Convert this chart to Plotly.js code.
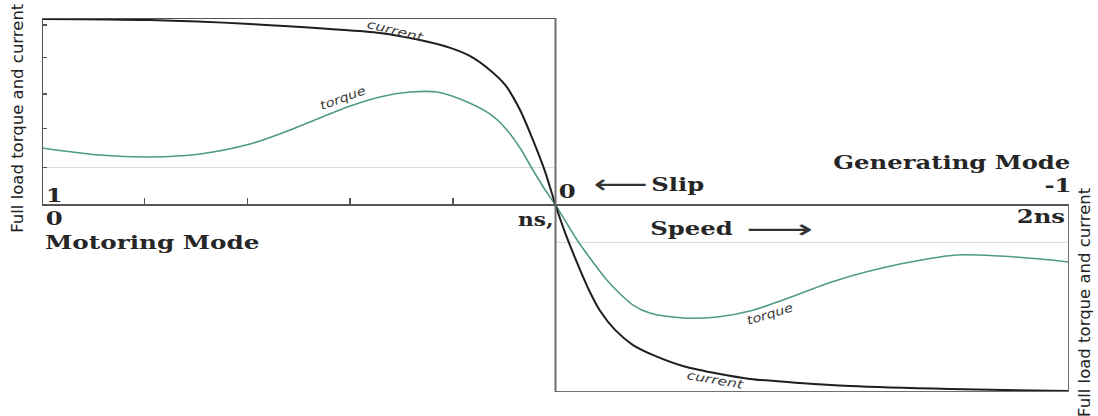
<!DOCTYPE html>
<html>
<head>
<meta charset="utf-8">
<script src="https://cdn.plot.ly/plotly-3.0.1.min.js"></script>
<style>html,body{margin:0;padding:0;background:#fff;}#chart{width:1098px;height:416px;}</style>
</head>
<body>
<div id="chart"></div>
<script>
// Speed in units of synchronous speed ns (0 .. 2ns); values in per-unit of full load
const speedCurrent = [0, 0.21, 0.405, 0.561, 0.658, 0.736, 0.795, 0.833, 0.872, 0.902, 0.931, 0.956, 0.98, 1.0, 1.019, 1.048, 1.067, 1.087, 1.116, 1.151, 1.194, 1.248, 1.32, 1.379, 1.476, 1.574, 1.768, 2.0];
const current = [0.995, 0.989, 0.968, 0.941, 0.92, 0.882, 0.84, 0.797, 0.722, 0.642, 0.508, 0.348, 0.176, 0, -0.15, -0.348, -0.465, -0.567, -0.668, -0.749, -0.807, -0.861, -0.904, -0.93, -0.952, -0.968, -0.984, -0.995];

const speedTorque = [0, 0.113, 0.21, 0.308, 0.405, 0.483, 0.541, 0.6, 0.658, 0.717, 0.769, 0.828, 0.872, 0.902, 0.931, 0.956, 0.98, 1.0, 1.042, 1.067, 1.1, 1.126, 1.151, 1.184, 1.248, 1.315, 1.379, 1.443, 1.544, 1.671, 1.782, 1.866, 1.944, 2.0];
const torque = [0.305, 0.267, 0.257, 0.273, 0.326, 0.401, 0.465, 0.529, 0.578, 0.604, 0.604, 0.551, 0.487, 0.412, 0.305, 0.187, 0.08, 0, -0.187, -0.283, -0.401, -0.476, -0.535, -0.578, -0.604, -0.599, -0.567, -0.508, -0.406, -0.316, -0.267, -0.273, -0.289, -0.305];

const leftTicks = [0.2, 0.41, 0.594, 0.79, 0.963];
const rightTicks = [-0.2];
const motorTicks = [0.2, 0.4, 0.6, 0.8];
const generatorTicks = [1.2, 1.4, 1.6, 1.8];
const fullLoadLevel = 0.2;

const axisTitle = "Full load torque and current";

const serif = {family: "DejaVu Serif", size: 18, color: "#262626", weight: "bold"};
const small = {family: "DejaVu Sans", size: 12, color: "#3a3a3a", style: "italic"};
const arrowFont = {family: "DejaVu Sans", size: 26, color: "#333"};
const titleFont = {family: "DejaVu Sans", size: 16.5, color: "#222"};

const traces = [
  {x: speedTorque, y: torque, mode: "lines", line: {color: "#4f9a86", width: 1.6, shape: "spline", smoothing: 0.8}, hoverinfo: "skip", name: "torque"},
  {x: speedCurrent, y: current, mode: "lines", line: {color: "#1e1e1e", width: 2, shape: "spline", smoothing: 0.8}, hoverinfo: "skip", name: "current"}
];

const boxLine = {color: "#6f6f6f", width: 2};
const faint = {color: "#d8d8d8", width: 1};

// stretch: horizontal widening of the (wide) lettering used in the original drawing
const annotations = [
  {xref: "paper", yref: "paper", x: -0.0234, y: 0.733, xanchor: "center", yanchor: "middle", text: axisTitle, textangle: -90, showarrow: false, font: titleFont},
  {xref: "paper", yref: "paper", x: 1.0156, y: 0.241, xanchor: "center", yanchor: "middle", text: axisTitle, textangle: -90, showarrow: false, font: titleFont},
  {x: 0.025, y: 0.053, text: "1", showarrow: false, font: serif, stretch: 1.35},
  {x: 0.025, y: -0.07, text: "0", showarrow: false, font: serif, stretch: 1.35},
  {x: 0.214, y: -0.203, text: "Motoring Mode", showarrow: false, font: serif, stretch: 1.37},
  {x: 0.962, y: -0.075, text: "ns,", showarrow: false, font: serif, stretch: 1.2},
  {x: 1.024, y: 0.07, text: "0", showarrow: false, font: serif, stretch: 1.35},
  {x: 1.126, y: 0.112, text: "⟵", showarrow: false, font: arrowFont, stretch: 1.45},
  {x: 1.237, y: 0.107, text: "Slip", showarrow: false, font: serif, stretch: 1.35},
  {x: 1.264, y: -0.128, text: "Speed", showarrow: false, font: serif, stretch: 1.35},
  {x: 1.437, y: -0.128, text: "⟶", showarrow: false, font: arrowFont, stretch: 1.8},
  {x: 1.772, y: 0.225, text: "Generating Mode", showarrow: false, font: serif, stretch: 1.35},
  {x: 1.978, y: 0.102, text: "-1", showarrow: false, font: serif, stretch: 1.35},
  {x: 1.945, y: -0.064, text: "2ns", showarrow: false, font: serif, stretch: 1.35},
  {x: 0.689, y: 0.93, text: "current", textangle: 14, showarrow: false, font: small, stretch: 1.3},
  {x: 0.586, y: 0.572, text: "torque", textangle: -20, showarrow: false, font: small, stretch: 1.2},
  {x: 1.418, y: -0.583, text: "torque", textangle: -17, showarrow: false, font: small, stretch: 1.2},
  {x: 1.311, y: -0.936, text: "current", textangle: 10, showarrow: false, font: small, stretch: 1.3}
];

const layout = {
  width: 1098, height: 416,
  margin: {l: 42, r: 29, t: 18, b: 24},
  paper_bgcolor: "#fff", plot_bgcolor: "#fff",
  showlegend: false,
  xaxis: {range: [0, 2], anchor: "free", position: 0.5, showgrid: false, zeroline: false, showline: false,
          tickmode: "array", tickvals: motorTicks, ticks: "inside", ticklen: 7, tickwidth: 1.5, tickcolor: "#555", showticklabels: false},
  xaxis2: {range: [0, 2], overlaying: "x", anchor: "free", position: 0.5, showgrid: false, zeroline: false, showline: false,
          tickmode: "array", tickvals: generatorTicks, ticks: "outside", ticklen: 7, tickwidth: 1.5, tickcolor: "#555", showticklabels: false},
  yaxis: {range: [-1, 1], showgrid: false, zeroline: true, zerolinecolor: "#555", zerolinewidth: 1.5, showline: false,
          tickmode: "array", tickvals: leftTicks, ticks: "inside", ticklen: 5, tickwidth: 1.5, tickcolor: "#555", showticklabels: false},
  yaxis2: {range: [-1, 1], overlaying: "y", side: "right", showgrid: false, zeroline: false, showline: false,
          tickmode: "array", tickvals: rightTicks, ticks: "inside", ticklen: 8, tickwidth: 1.5, tickcolor: "#555", showticklabels: false},
  shapes: [
    {type: "line", xref: "x", yref: "y", x0: 0, x1: 1, y0: fullLoadLevel, y1: fullLoadLevel, line: faint, layer: "below"},
    {type: "line", xref: "x", yref: "y", x0: 1, x1: 2, y0: -fullLoadLevel, y1: -fullLoadLevel, line: faint, layer: "below"},
    {type: "line", xref: "x", yref: "y", x0: 0, x1: 1, y0: 1, y1: 1, line: {color: "#555", width: 2}},
    {type: "line", xref: "x", yref: "y", x0: 0, x1: 0, y0: 0, y1: 1, line: {color: "#555", width: 2}},
    {type: "line", xref: "x", yref: "y", x0: 1, x1: 1, y0: -1, y1: 1, line: boxLine},
    {type: "line", xref: "x", yref: "y", x0: 1, x1: 2, y0: -1, y1: -1, line: boxLine},
    {type: "line", xref: "x", yref: "y", x0: 2, x1: 2, y0: -1, y1: 0, line: boxLine}
  ],
  annotations: annotations.map(a => { const c = Object.assign({}, a); delete c.stretch; return c; })
};

Plotly.newPlot("chart", traces, layout, {staticPlot: true, displayModeBar: false}).then(gd => {
  gd.querySelectorAll("g.annotation").forEach(g => {
    const idx = +g.getAttribute("data-index");
    const f = annotations[idx] && annotations[idx].stretch;
    if (!f) return;
    const t = g.querySelector("text.annotation-text");
    if (!t) return;
    const w = t.getComputedTextLength();
    t.setAttribute("textLength", (w * f).toFixed(1));
    t.setAttribute("lengthAdjust", "spacingAndGlyphs");
  });
});
</script>
</body>
</html>
